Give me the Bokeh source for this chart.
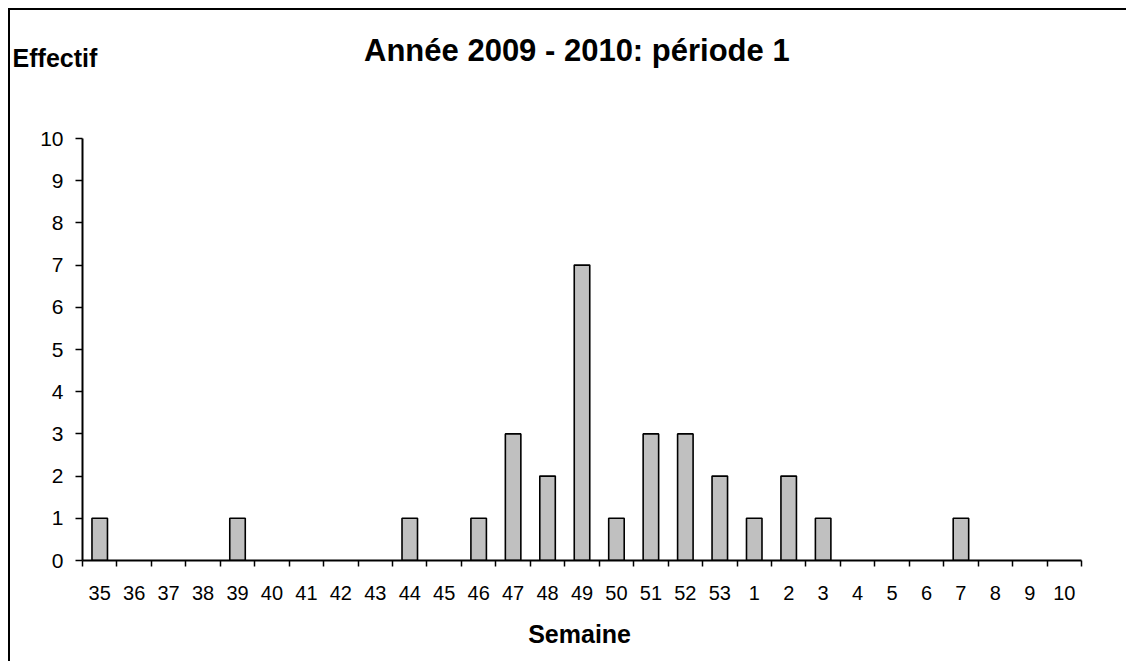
from bokeh.plotting import figure
from bokeh.models import Range1d, FixedTicker, Label, ColumnDataSource
from bokeh.embed import file_html
from bokeh.resources import INLINE
import numpy as np

weeks = ["35", "36", "37", "38", "39", "40", "41", "42", "43", "44", "45", "46", "47",
         "48", "49", "50", "51", "52", "53", "1", "2", "3", "4", "5", "6", "7", "8", "9", "10"]
counts = [1, 0, 0, 0, 1, 0, 0, 0, 0, 1, 0, 1, 3, 2, 7, 1, 3, 3, 2, 1, 2, 1, 0, 0, 0, 1, 0, 0, 0]
y_ticks = list(range(0, 11))

title_text = "Année 2009 - 2010: période 1"
ylabel_text = "Effectif"
xlabel_text = "Semaine"

FONT = "Liberation Sans"

n = len(weeks)
xpos = np.arange(n) + 0.5
nz = [i for i, c in enumerate(counts) if c > 0]
src = ColumnDataSource(dict(x=[xpos[i] for i in nz], top=[counts[i] for i in nz]))

p = figure(width=1118, height=653, output_backend="svg", toolbar_location=None,
           x_range=Range1d(0, n), y_range=Range1d(0, 10),
           min_border_left=72, min_border_right=47, min_border_top=128, min_border_bottom=103)
p.styles = {"margin-left": "8px", "margin-top": "8px",
            "border-top": "2px solid black", "border-left": "2px solid black"}

p.background_fill_color = "white"
p.border_fill_color = "white"
p.outline_line_color = None
p.xgrid.grid_line_color = None
p.ygrid.grid_line_color = None

p.vbar(x="x", top="top", bottom=0, width=0.45, source=src,
       fill_color="#C0C0C0", line_color="black", line_width=1.6)

# x axis: labels at centers, tick marks at category boundaries
xa = p.xaxis[0]
xa.ticker = FixedTicker(ticks=list(xpos), minor_ticks=list(range(n + 1)))
xa.major_label_overrides = {float(x): w for x, w in zip(xpos, weeks)}
xa.major_tick_out = 0
xa.major_tick_in = 0
xa.minor_tick_out = 6
xa.minor_tick_in = 0
xa.minor_tick_line_color = "black"
xa.minor_tick_line_width = 1.5
xa.axis_line_color = "black"
xa.axis_line_width = 2
xa.major_label_text_font = FONT
xa.major_label_text_font_size = "20px"
xa.major_label_text_color = "black"
xa.major_label_standoff = 19

ya = p.yaxis[0]
ya.ticker = FixedTicker(ticks=y_ticks)
ya.major_tick_out = 7
ya.major_tick_in = 0
ya.minor_tick_line_color = None
ya.major_tick_line_color = "black"
ya.major_tick_line_width = 1.5
ya.axis_line_color = "black"
ya.axis_line_width = 2
ya.major_label_text_font = FONT
ya.major_label_text_font_size = "21px"
ya.major_label_text_color = "black"
ya.major_label_standoff = 12

p.add_layout(Label(x=14.35, y=12.08, text=title_text, text_align="center",
                   text_baseline="alphabetic", text_font=FONT, text_font_size="31px",
                   text_font_style="bold", text_color="black"), "above")
p.add_layout(Label(x=-2.03, y=11.90, text=ylabel_text, text_align="left",
                   text_baseline="alphabetic", text_font=FONT, text_font_size="25px",
                   text_font_style="bold", text_color="black"), "above")
p.add_layout(Label(x=14.43, y=-1.75, text=xlabel_text, text_align="center",
                   text_baseline="alphabetic", text_font=FONT, text_font_size="25px",
                   text_font_style="bold", text_color="black"), "below")

open("out.html", "w").write(file_html(p, INLINE))
